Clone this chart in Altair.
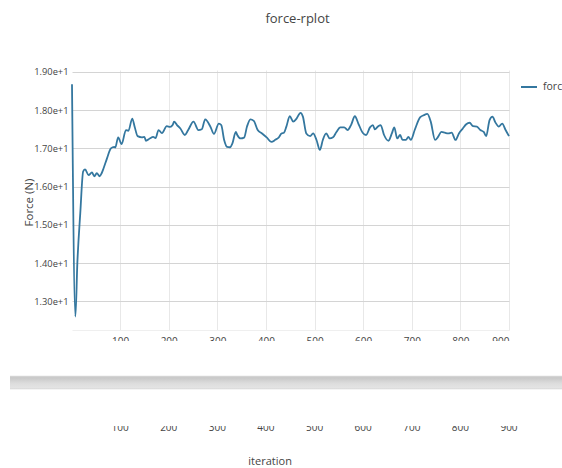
import altair as alt
import pandas as pd

# Force recorded at each iteration (sampled along the run)
iterations = [1, 8, 12, 18, 24, 28, 35, 42, 47, 52, 58, 62, 66, 73, 81, 88, 90, 96,
              103, 112, 117, 125, 130, 136, 145, 150, 153, 161, 168, 173, 179, 186,
              196, 203, 208, 211, 217, 224, 233, 240, 251, 261, 268, 275, 286, 293,
              303, 308, 314, 320, 326, 331, 338, 341, 348, 355, 361, 368, 375, 383,
              392, 402, 411, 420, 426, 432, 437, 442, 449, 456, 463, 471, 476, 483,
              491, 497, 504, 511, 517, 524, 531, 538, 545, 553, 561, 568, 575, 583,
              590, 599, 606, 614, 620, 624, 631, 636, 643, 652, 659, 664, 670, 676,
              681, 688, 693, 698, 706, 717, 725, 732, 739, 748, 754, 761, 768, 775,
              782, 790, 797, 805, 812, 819, 826, 834, 841, 848, 853, 860, 866, 872,
              879, 886, 893, 900]
force = [18.68, 12.60, 14.00, 15.30, 16.40, 16.45, 16.30, 16.37, 16.27, 16.35, 16.27,
         16.35, 16.48, 16.74, 17.00, 17.04, 17.02, 17.29,
         17.11, 17.48, 17.46, 17.78, 17.56, 17.32, 17.29, 17.30, 17.20, 17.26, 17.30,
         17.27, 17.48, 17.40,
         17.58, 17.56, 17.61, 17.70, 17.61, 17.52, 17.35, 17.48, 17.70, 17.48, 17.50,
         17.76, 17.56, 17.38,
         17.65, 17.61, 17.22, 17.04, 17.03, 17.13, 17.43, 17.35, 17.26, 17.28, 17.57,
         17.76, 17.72, 17.48,
         17.39, 17.28, 17.17, 17.23, 17.28, 17.39, 17.41, 17.57, 17.84, 17.70, 17.78,
         17.93, 17.83, 17.39,
         17.32, 17.39, 17.22, 16.96, 17.22, 17.39, 17.26, 17.29, 17.43, 17.55, 17.55,
         17.48, 17.61, 17.84,
         17.65, 17.41, 17.35, 17.55, 17.61, 17.50, 17.58, 17.61, 17.35, 17.20, 17.39,
         17.55, 17.26, 17.35,
         17.22, 17.22, 17.30, 17.22, 17.48, 17.81, 17.87, 17.90, 17.70, 17.22, 17.30,
         17.43, 17.41, 17.39,
         17.41, 17.22, 17.39, 17.52, 17.63, 17.67, 17.58, 17.57, 17.48, 17.43, 17.32,
         17.74, 17.83, 17.68,
         17.57, 17.65, 17.48, 17.32]
series_name = "force"

x_ticks = [100, 200, 300, 400, 500, 600, 700, 800, 900]
y_ticks = [13, 14, 15, 16, 17, 18, 19]

df = pd.DataFrame({"iteration": iterations, "force": force, "series": series_name})
ticks_df = pd.DataFrame({"iteration": x_ticks})
one_row = pd.DataFrame({"k": [0]})

W, H = 437, 260
LINE_COLOR = "#34779f"
TEXT_COLOR = "#444444"

x_scale = alt.Scale(domain=[1, 900], nice=False, zero=False)
y_scale = alt.Scale(domain=[12.25, 19.05], nice=False, zero=False)

line = alt.Chart(df).mark_line(strokeWidth=1.8, interpolate="monotone").encode(
    x=alt.X("iteration:Q", scale=x_scale,
            axis=alt.Axis(values=x_ticks, grid=True, gridColor="#e8e8e8", ticks=False,
                          domain=True, domainColor="#efefef", labelFontSize=10,
                          labelColor=TEXT_COLOR, labelPadding=6, format="d",
                          title="iteration", titleFontSize=11, titleFontWeight="normal",
                          titleColor=TEXT_COLOR, titleX=197.6, titleY=131,
                          titleAlign="center", titleBaseline="middle")),
    y=alt.Y("force:Q", scale=y_scale,
            axis=alt.Axis(values=y_ticks, format=".2e", grid=True, gridColor="#d4d4d4",
                          ticks=False, domain=False, labelFontSize=9.3,
                          labelColor=TEXT_COLOR, labelPadding=4,
                          title="Force (N)", titleFontSize=11.5, titleFontWeight="normal",
                          titleColor=TEXT_COLOR, titleX=-43, titleY=132,
                          titleAlign="center", titleBaseline="middle", titleAngle=-90)),
    color=alt.Color("series:N", scale=alt.Scale(range=[LINE_COLOR]),
                    legend=alt.Legend(title=None, orient="none", legendX=448, legendY=8,
                                      symbolType="stroke", symbolSize=256,
                                      symbolStrokeWidth=2, labelFontSize=10.5,
                                      labelColor=TEXT_COLOR, labelOffset=5)),
)

# white band trimming the lower half of the main tick labels
cover_top = alt.Chart(one_row).mark_rect(color="white").encode(
    x=alt.value(-20), x2=alt.value(W + 30), y=alt.value(271), y2=alt.value(290)
)

# range-slider bar
bar_fill = alt.Gradient(
    gradient="linear", x1=0, x2=0, y1=0, y2=1,
    stops=[alt.GradientStop(color="#dadada", offset=0),
           alt.GradientStop(color="#c8c8c8", offset=0.15),
           alt.GradientStop(color="#dcdcdc", offset=0.55),
           alt.GradientStop(color="#e4e4e4", offset=0.9),
           alt.GradientStop(color="#d2d2d2", offset=1)],
)
slider = alt.Chart(one_row).mark_rect(color=bar_fill).encode(
    x=alt.value(-62), x2=alt.value(W + 60), y=alt.value(305.7), y2=alt.value(319.3)
)

# tick labels under the slider, upper part trimmed
slider_labels = alt.Chart(ticks_df).mark_text(
    fontSize=10, color=TEXT_COLOR, baseline="alphabetic", align="center"
).encode(
    x=alt.X("iteration:Q", scale=x_scale),
    y=alt.value(361),
    text=alt.Text("iteration:Q", format="d"),
)
cover_bottom = alt.Chart(one_row).mark_rect(color="white").encode(
    x=alt.value(-20), x2=alt.value(W + 30), y=alt.value(340), y2=alt.value(356)
)

chart = alt.layer(line, cover_top, slider, slider_labels, cover_bottom).properties(
    width=W,
    height=H,
    autosize=alt.AutoSizeParams(type="none"),
    padding={"left": 72, "top": 70, "right": 53, "bottom": 138},
    title=alt.TitleParams(text="force-rplot", fontSize=13, fontWeight="normal",
                          color=TEXT_COLOR, anchor="middle", frame="group",
                          baseline="alphabetic", offset=32, dx=7),
    background="white",
).configure(font="Open Sans").configure_view(stroke=None)

chart.save("out.html", embed_options={"renderer": "svg", "actions": False})
